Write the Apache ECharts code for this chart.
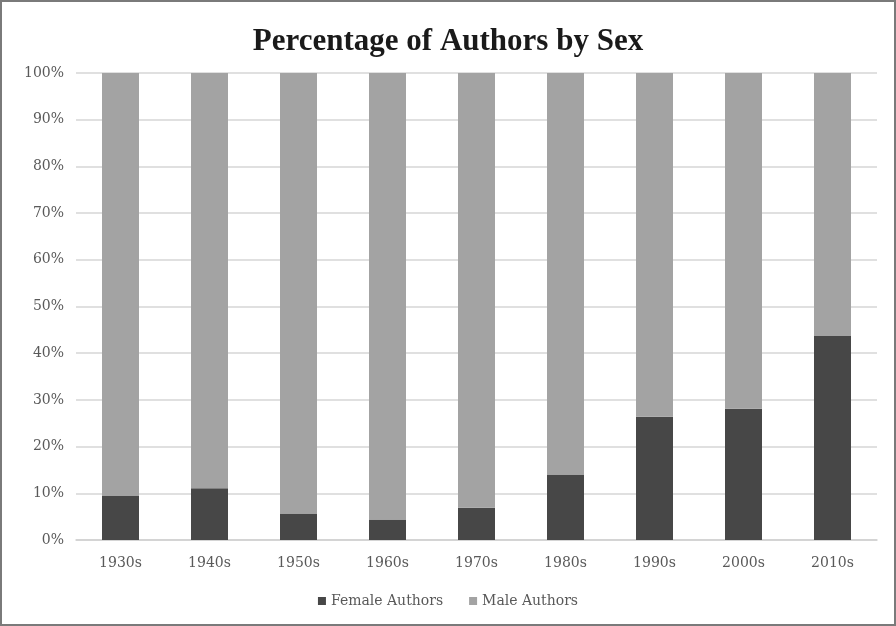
<!DOCTYPE html>
<html lang="en">
<head>
<meta charset="UTF-8">
<title>Percentage of Authors by Sex</title>
<script src="https://cdn.jsdelivr.net/npm/echarts@6/dist/echarts.min.js"></script>
<style>
  html, body { margin: 0; padding: 0; background: #fff; }
  #chart { width: 892px; height: 622px; border: 2px solid #7a7a7a; }
</style>
</head>
<body>
<div id="chart"></div>
<script>
// decades on the x axis
var decades = ["1930s", "1940s", "1950s", "1960s", "1970s", "1980s", "1990s", "2000s", "2010s"];
// share of female authors (%)
var female = [9.4, 11.1, 5.7, 4.4, 6.9, 14.0, 26.4, 28.1, 43.7];
// male share is the rest of each bar
var male = female.map(function (v) { return +(100 - v).toFixed(1); });

var titleFont = "'Liberation Serif', serif";
var labelFont = "'DejaVu Serif', serif";

var myChart = echarts.init(document.getElementById("chart"));
var option = {
  animation: false,
  title: {
    text: "Percentage of Authors by Sex",
    left: "center",
    top: 19,
    textStyle: { fontFamily: titleFont, fontWeight: "bold", fontSize: 31, color: "#1a1a1a" }
  },
  legend: {
    bottom: 11,
    left: "center",
    itemWidth: 8,
    itemHeight: 8,
    itemGap: 26,
    icon: "rect",
    textStyle: { fontFamily: labelFont, fontSize: 14, color: "#595959" },
    data: ["Female Authors", "Male Authors"]
  },
  grid: { left: 74, right: 17, top: 71, bottom: 84 },
  xAxis: {
    type: "category",
    data: decades,
    axisTick: { show: false },
    axisLine: { lineStyle: { color: "#cfcfcf", width: 1.5 } },
    axisLabel: { fontFamily: labelFont, fontSize: 14, color: "#595959", margin: 16 }
  },
  yAxis: {
    type: "value",
    min: 0,
    max: 100,
    interval: 10,
    axisLabel: { formatter: "{value}%", fontFamily: labelFont, fontSize: 14, color: "#595959", margin: 12 },
    splitLine: { lineStyle: { color: "#d6d6d6", width: 1.5 } },
    axisLine: { show: false },
    axisTick: { show: false }
  },
  series: [
    {
      name: "Female Authors",
      type: "bar",
      stack: "total",
      barWidth: 37,
      itemStyle: { color: "#474747" },
      data: female
    },
    {
      name: "Male Authors",
      type: "bar",
      stack: "total",
      barWidth: 37,
      itemStyle: { color: "#a3a3a3" },
      data: male
    }
  ]
};
myChart.setOption(option);
</script>
</body>
</html>
